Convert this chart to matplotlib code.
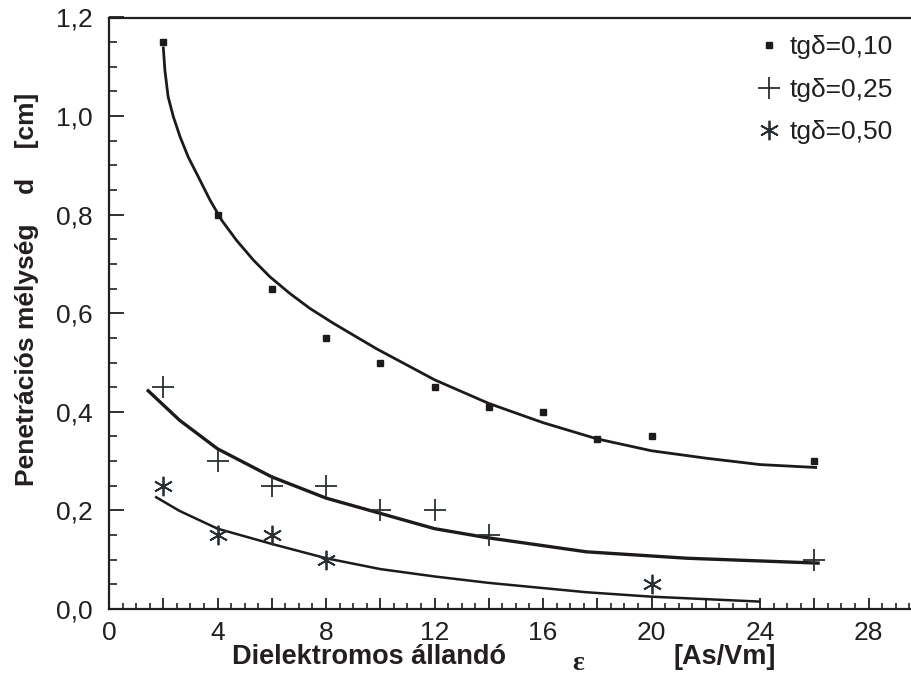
import matplotlib
matplotlib.use("Agg")
import matplotlib.pyplot as plt
from matplotlib.ticker import MultipleLocator, FuncFormatter

plt.rcParams['font.family'] = ['Liberation Sans', 'DejaVu Sans']
plt.rcParams['font.size'] = 19

ink = '#231f20'

# measured points, one set per loss factor
eps_010 = [2, 4, 6, 8, 10, 12, 14, 16, 18, 20, 26]
d_010 = [1.15, 0.80, 0.65, 0.55, 0.50, 0.45, 0.41, 0.40, 0.345, 0.35, 0.30]

eps_025 = [2, 4, 6, 8, 10, 12, 14, 26]
d_025 = [0.45, 0.30, 0.25, 0.25, 0.20, 0.20, 0.15, 0.10]

eps_050 = [2, 4, 6, 8, 20]
d_050 = [0.25, 0.15, 0.15, 0.10, 0.05]

# fitted trend curves
fit_x_010 = [2.0, 2.06, 2.18, 2.37, 2.62, 2.92, 3.29, 3.72, 4.15, 4.70, 5.32, 5.93,
             6.67, 7.40, 8.26, 9.12, 9.86, 12, 14, 16, 18, 20, 22, 24, 26.1]
fit_y_010 = [1.141, 1.093, 1.039, 0.999, 0.958, 0.917, 0.877, 0.830, 0.789, 0.748,
             0.708, 0.674, 0.640, 0.610, 0.580, 0.552, 0.528, 0.465, 0.417, 0.378,
             0.345, 0.321, 0.306, 0.293, 0.287]

fit_x_025 = [1.4, 2.6, 4.0, 6.0, 8.0, 10, 12, 13.9, 17.6, 21.3, 26.2]
fit_y_025 = [0.445, 0.383, 0.325, 0.268, 0.225, 0.194, 0.163, 0.145, 0.116, 0.103, 0.093]

fit_x_050 = [1.7, 2.6, 4.0, 6.0, 8.0, 10, 12, 14, 17.6, 20, 24]
fit_y_050 = [0.228, 0.199, 0.163, 0.132, 0.103, 0.081, 0.066, 0.053, 0.034, 0.025, 0.015]

fig = plt.figure(figsize=(9.12, 6.8), dpi=100)
ax = fig.add_axes([109 / 912, 71 / 680, 1 - 109 / 912, (609 - 17.5) / 680])

ax.plot(fit_x_010, fit_y_010, color='#1e1a1b', lw=2.0, solid_capstyle='butt')
ax.plot(fit_x_025, fit_y_025, color='#1e1a1b', lw=2.4, solid_capstyle='butt')
ax.plot(fit_x_050, fit_y_050, color='#1e1a1b', lw=1.8, solid_capstyle='butt')

h1, = ax.plot(eps_010, d_010, ls='none', marker='s', ms=4.8, color='#1e1a1b',
              label='tg\u03b4=0,10')
h2, = ax.plot(eps_025, d_025, ls='none', marker='+', ms=16, mew=1.3, color='#2a2f33',
              label='tg\u03b4=0,25')
h3, = ax.plot(eps_050, d_050, ls='none', marker=(6, 2, 0), ms=14, mew=1.3, color='#2a2f33',
              label='tg\u03b4=0,50')

ax.set_xlim(0, 29.6)
ax.set_ylim(0, 1.2)

ax.xaxis.set_major_locator(MultipleLocator(2))
ax.xaxis.set_minor_locator(MultipleLocator(0.5))
ax.xaxis.set_major_formatter(FuncFormatter(lambda v, p: f"{v:.0f}" if round(v) % 4 == 0 else ""))
ax.yaxis.set_major_locator(MultipleLocator(0.2))
ax.yaxis.set_minor_locator(MultipleLocator(0.05))
ax.yaxis.set_major_formatter(FuncFormatter(lambda v, p: f"{v:.1f}".replace('.', ',')))

ax.tick_params(axis='x', which='major', direction='in', length=8, width=1.3, pad=9,
               colors=ink, labelsize=19)
ax.tick_params(axis='x', which='minor', direction='in', length=4, width=1.2, colors=ink)
ax.tick_params(axis='y', which='major', direction='in', length=11, width=1.3, pad=12,
               colors=ink, labelsize=19)
ax.tick_params(axis='y', which='minor', direction='in', length=6, width=1.2, colors=ink)

for side in ['left', 'top', 'bottom']:
    ax.spines[side].set_linewidth(1.6)
    ax.spines[side].set_color(ink)
ax.spines['right'].set_visible(False)

ax.set_ylabel('Penetrációs mélység    d    [cm]', fontsize=19, fontweight='bold',
              color=ink, y=0.54, labelpad=12)

fig.text(369 / 912, 1 - 657 / 680, 'Dielektromos állandó', fontsize=19.5, fontweight='bold',
         color=ink, ha='center', va='center')
fig.text(578 / 912, 1 - 664 / 680, '\u03b5', fontsize=20, fontweight='bold',
         family='Liberation Serif', color=ink, ha='center', va='center')
fig.text(725 / 912, 1 - 657 / 680, '[As/Vm]', fontsize=19.5, fontweight='bold',
         color=ink, ha='center', va='center')

ax.legend(handles=[h1, h2, h3], loc='upper right', bbox_to_anchor=(1.006, 1.01),
          frameon=False, fontsize=19, handlelength=1.0, handletextpad=0.3,
          labelspacing=0.7, labelcolor=ink)

fig.savefig('out.png', dpi=100)
